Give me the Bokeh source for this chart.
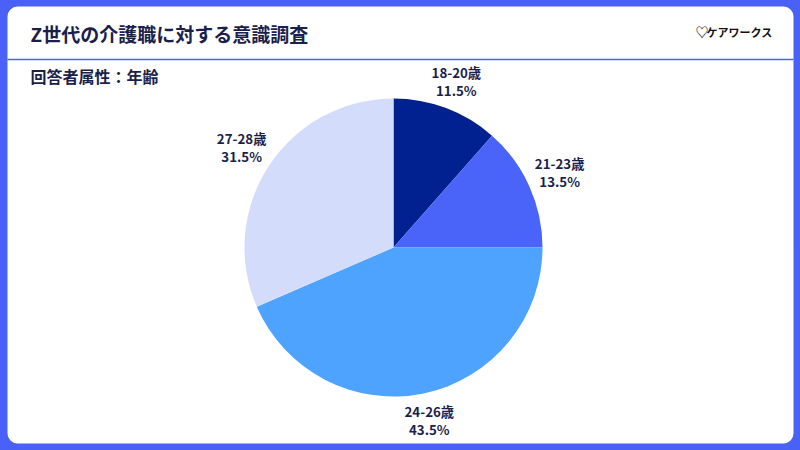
import math
from bokeh.plotting import figure
from bokeh.models import Range1d, ColumnDataSource, GlobalInlineStyleSheet, BoxAnnotation
from bokeh.core.properties import value
from bokeh.embed import file_html
from bokeh.resources import INLINE

# ---- data ----
categories = ["18-20歳", "21-23歳", "24-26歳", "27-28歳"]
shares = [11.5, 13.5, 43.5, 31.5]
colors = ["#00218f", "#4a63f8", "#4da3fd", "#d4dcfb"]
title_text = "Z世代の介護職に対する意識調査"
subtitle_text = "回答者属性：年齢"
logo_text = "ケアワークス"

BLUE = "#4a61f6"
NAVY = "#1b1f4b"
FONT = "Noto Sans CJK JP"

W, H = 800, 450
p = figure(width=W, height=H, output_backend="svg", toolbar_location=None,
           x_range=Range1d(0, W), y_range=Range1d(0, H),
           min_border=0, outline_line_color=None,
           background_fill_color=BLUE, border_fill_color=BLUE)
p.axis.visible = False
p.grid.visible = False
p.stylesheets = [GlobalInlineStyleSheet(css=f"body{{background:{BLUE};}}")]

def Y(py):
    return H - py

# white panel
p.add_layout(BoxAnnotation(left=7, right=793, top=Y(6), bottom=Y(443),
                           fill_color="white", fill_alpha=1.0,
                           line_color=None, border_radius=10,
                           level="underlay"))

# pie
cx, cy, r = 393, Y(247), 149
total = sum(shares)
starts, ends, lx, ly, labels = [], [], [], [], []
cum = 0.0
for cat, s in zip(categories, shares):
    a0 = math.pi / 2 - 2 * math.pi * cum / total
    a1 = math.pi / 2 - 2 * math.pi * (cum + s) / total
    starts.append(a0)
    ends.append(a1)
    mid = (a0 + a1) / 2
    lr = 175 + 8 * abs(math.cos(mid))
    lx.append(cx + lr * math.cos(mid))
    ly.append(cy + lr * math.sin(mid))
    labels.append(f"{cat}\n{s}%")
    cum += s

src = ColumnDataSource(dict(start=starts, end=ends, color=colors,
                            lx=lx, ly=ly, label=labels))
p.wedge(x=cx, y=cy, radius=r, start_angle="start", end_angle="end",
        direction="clock", fill_color="color", line_color=None, source=src)
p.text(x="lx", y="ly", text="label", source=src, text_align="center",
       text_baseline="middle", text_font=value(FONT), text_font_size="13.3px",
       text_font_style="bold", text_color=NAVY, text_line_height=0.95)

# header
p.text(x=[30], y=[Y(33)], text=[title_text], text_font=value(FONT),
       text_font_size="19px", text_font_style="bold", text_color=NAVY,
       text_baseline="middle", text_align="left")
p.segment(x0=[7], y0=[Y(59)], x1=[793], y1=[Y(59)], line_color=BLUE,
          line_width=1.5)
p.text(x=[30], y=[Y(75)], text=[subtitle_text], text_font=value(FONT),
       text_font_size="16px", text_font_style="bold", text_color=NAVY,
       text_baseline="middle", text_align="left")

# logo
p.text(x=[695], y=[Y(31)], text=["♡"], text_font=value(FONT),
       text_font_size="13px", text_font_style="bold", text_color="#111111",
       text_baseline="middle", text_align="left")
p.text(x=[706], y=[Y(31)], text=[logo_text], text_font=value(FONT),
       text_font_size="11px", text_font_style="bold", text_color="#111111",
       text_baseline="middle", text_align="left")

open("out.html", "w").write(file_html(p, INLINE))
